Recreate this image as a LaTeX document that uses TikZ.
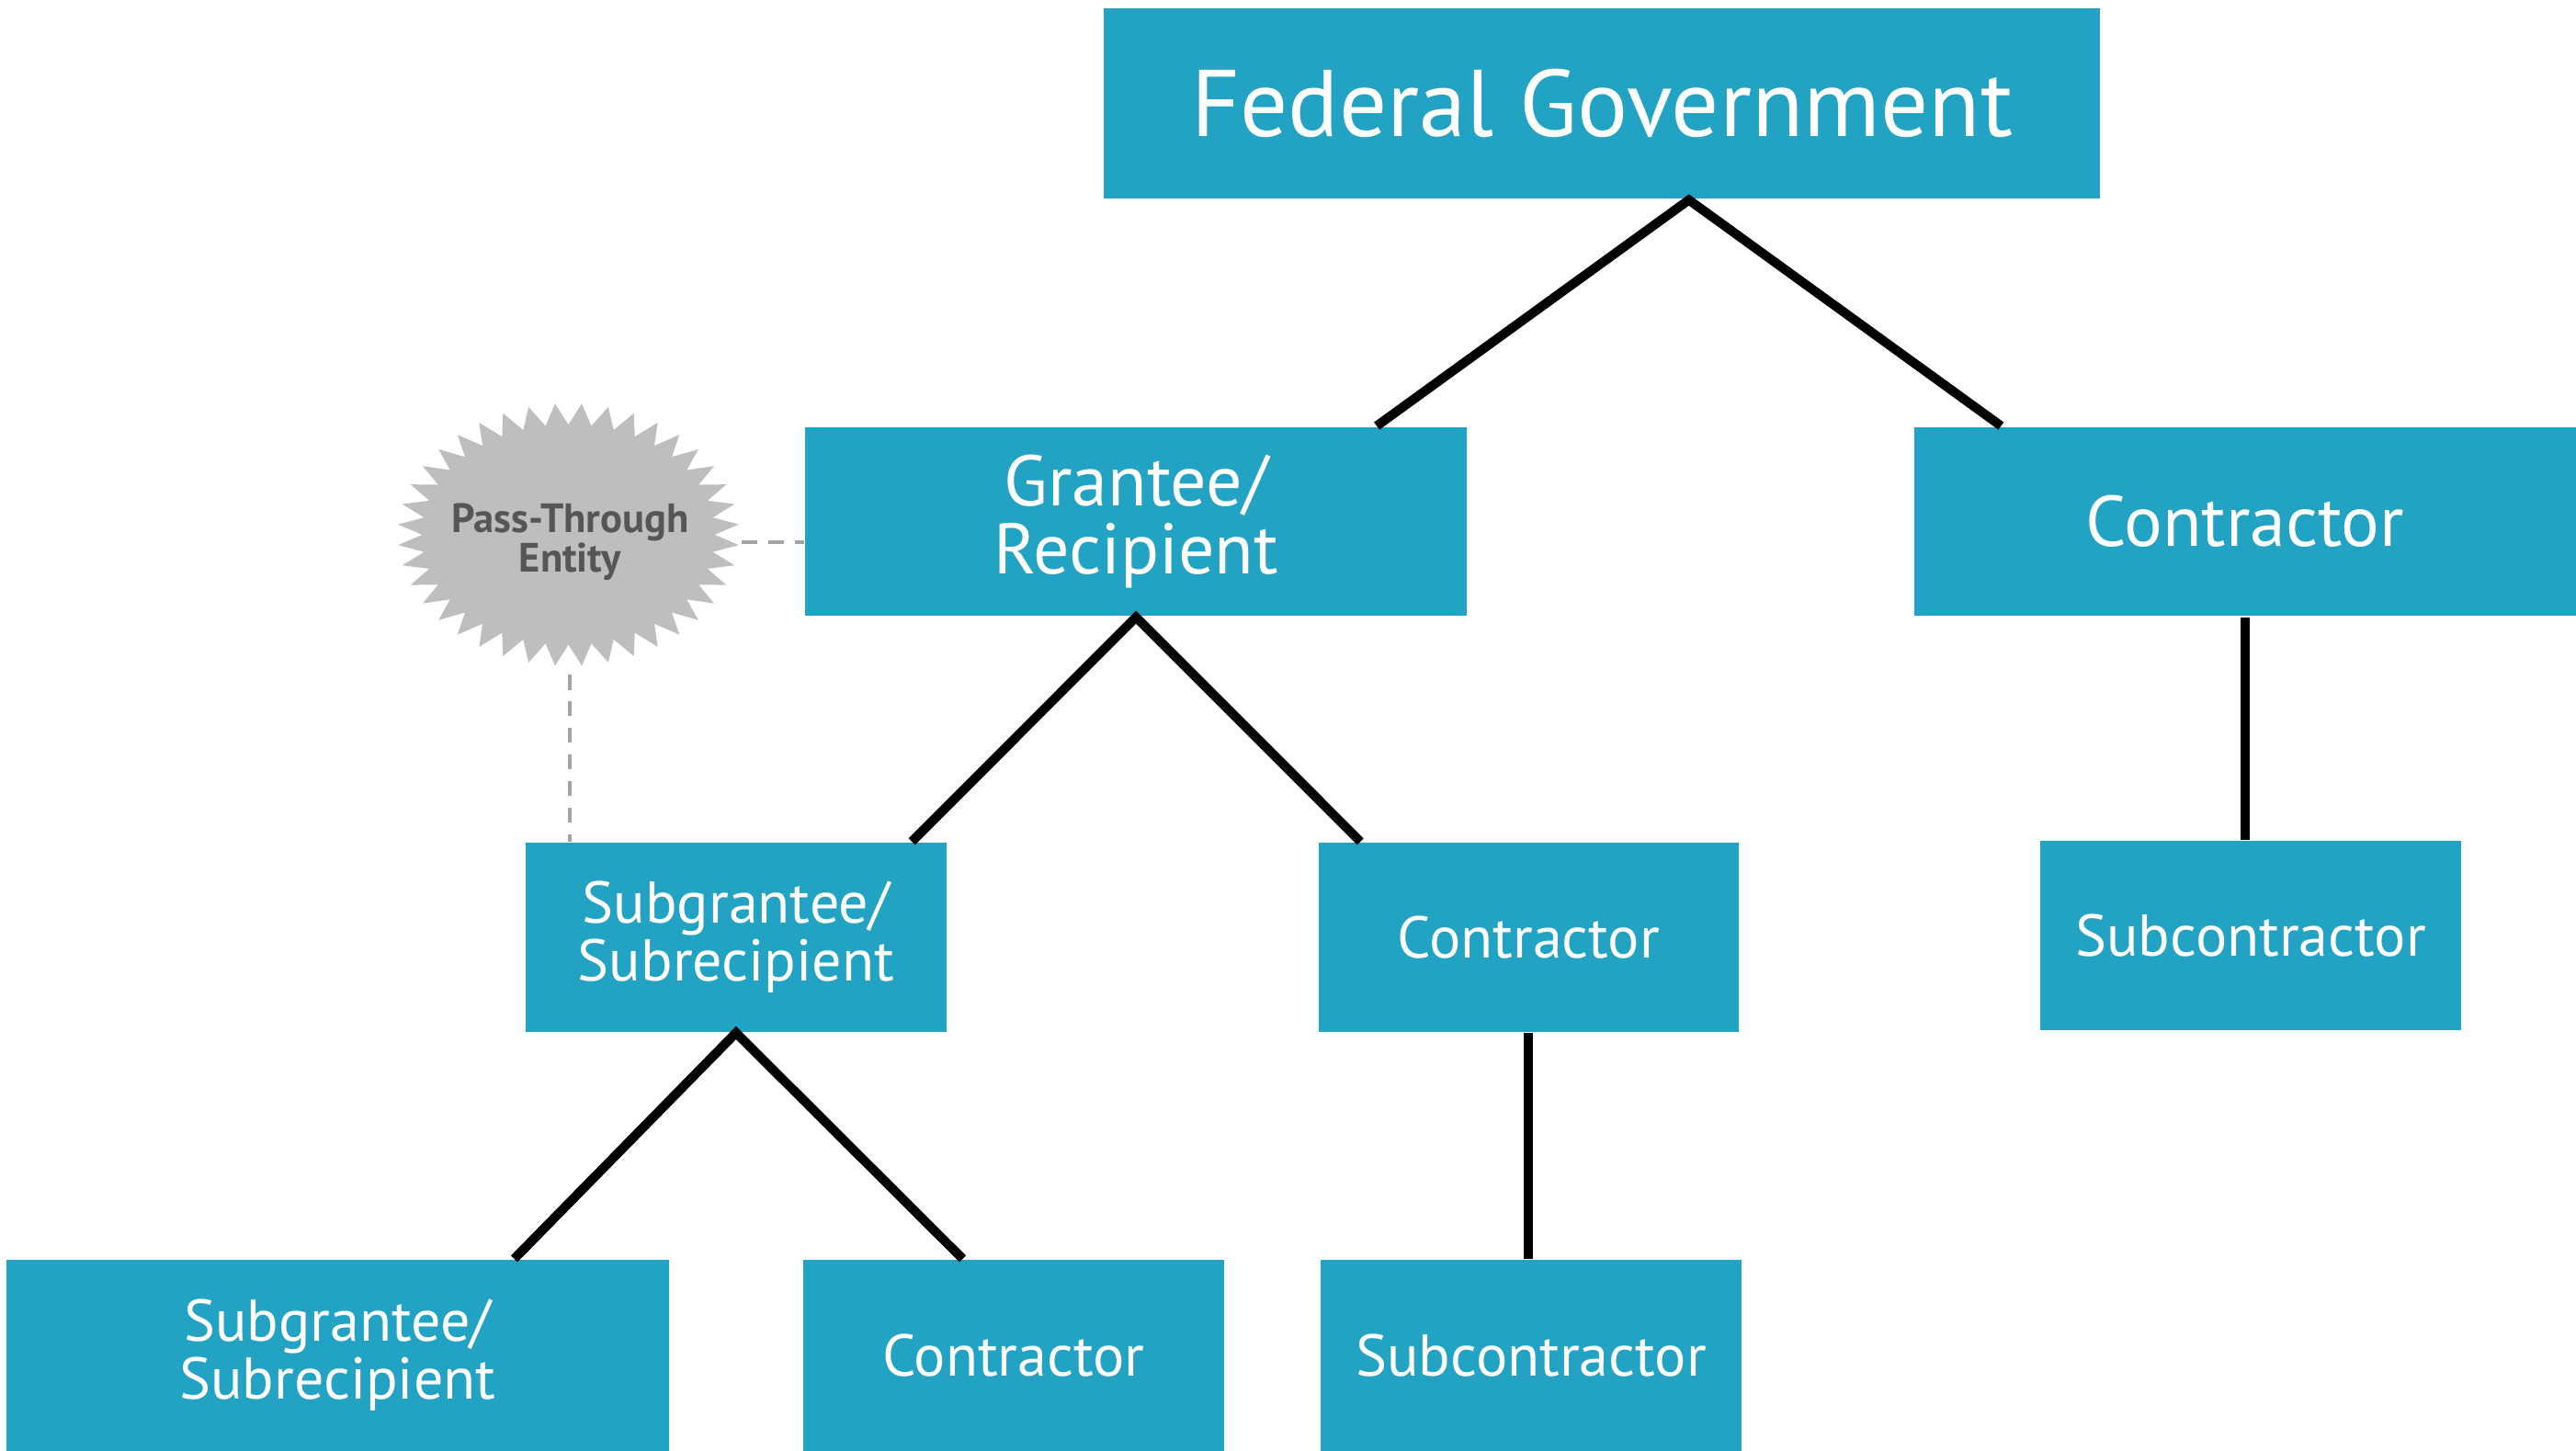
\documentclass[tikz,border=0pt]{standalone}
\usepackage{fontspec}
\setmainfont{PT Sans}
\usetikzlibrary{shapes.geometric}
\definecolor{govblue}{HTML}{22A3C3}
\definecolor{starfill}{HTML}{BDBEC0}
\definecolor{startext}{HTML}{555658}
\definecolor{dashgray}{HTML}{A3A3A3}
\tikzset{
    unit/.style={fill=govblue, text=white, align=center, inner sep=0pt},
    bigunit/.style={unit, minimum width=4.03cm, minimum height=1.15cm, font=\fontsize{12.4}{11.7}\selectfont},
    smallunit/.style={unit, minimum width=2.56cm, minimum height=1.15cm, font=\fontsize{10.2}{10}\selectfont},
    link/.style={line width=1.6pt},
    passlink/.style={dashgray, line width=0.6pt, dash pattern=on 2.6pt off 2pt}
}

\begin{document}
\begin{tikzpicture}
    \useasboundingbox (0,0) rectangle (15.68,-8.83);
    \node[unit, minimum width=6.06cm, minimum height=1.16cm, font=\fontsize{16.4}{16}\selectfont] (fg) at (9.75,-0.63) {Federal Government};
    \node[bigunit] (gr) at (6.915,-3.175) {Grantee/\\Recipient};
    \node[bigunit] (ctr) at (13.665,-3.175) {Contractor};
    \node[smallunit] (sg) at (4.48,-5.705) {Subgrantee/\\Subrecipient};
    \node[smallunit] (ct) at (9.305,-5.705) {Contractor};
    \node[smallunit] (scr) at (13.70,-5.695) {Subcontractor};
    \node[smallunit, minimum width=4.03cm, minimum height=1.16cm] (ssg) at (2.055,-8.25) {Subgrantee/\\Subrecipient};
    \node[smallunit, minimum height=1.16cm] (sct) at (6.17,-8.25) {Contractor};
    \node[smallunit, minimum height=1.16cm] (ssc) at (9.32,-8.25) {Subcontractor};
    \fill[starfill, shift={(3.46,-3.255)}] plot[samples at={0,...,79}, variable=\k]
        ({(1.04-0.15*mod(\k+1,2))*cos(4.5*\k)}, {(0.80-0.13*mod(\k+1,2))*sin(4.5*\k)}) -- cycle;
    \node[ellipse, minimum width=2.08cm, minimum height=1.6cm, inner sep=0pt, align=center, text=startext,
        font=\bfseries\fontsize{7.1}{6.9}\selectfont] (pte) at (3.47,-3.30) {Pass-Through\\Entity};
    \draw[link] ([xshift=1.465cm]gr.north) -- ([xshift=0.53cm]fg.south) -- ([xshift=-1.485cm]ctr.north);
    \draw[link] ([xshift=1.07cm]sg.north) -- (gr.south) -- ([xshift=-1.025cm]ct.north);
    \draw[link] ([xshift=1.075cm]ssg.north) -- (sg.south) -- ([xshift=-0.31cm]sct.north);
    \draw[link] (ctr.south) -- (ctr.south |- scr.north);
    \draw[link] (ct.south) -- (ct.south |- ssc.north);
    \draw[passlink] (pte.east) -- (pte.east -| gr.west);
    \draw[passlink] (pte.south) -- (pte.south |- sg.north);
\end{tikzpicture}
\end{document}
